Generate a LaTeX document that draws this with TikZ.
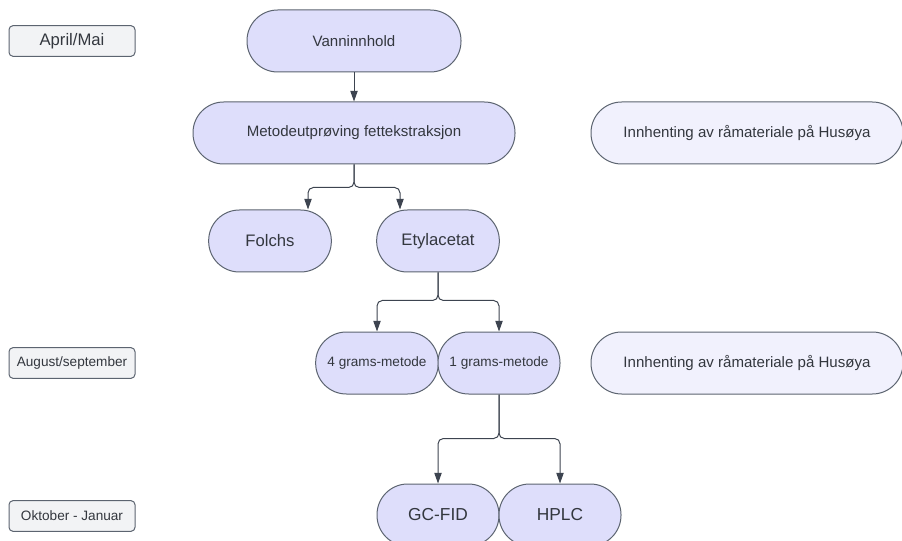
\documentclass[tikz,border=0pt]{standalone}
\usepackage{fontspec}
\setmainfont{Liberation Sans}
\usetikzlibrary{arrows.meta, positioning, calc}
\definecolor{stepfill}{RGB}{222,222,251}
\definecolor{palefill}{RGB}{241,241,253}
\definecolor{periodfill}{RGB}{242,243,245}
\definecolor{edgegray}{RGB}{92,100,112}
\definecolor{linkgray}{RGB}{61,68,80}
\definecolor{textgray}{RGB}{51,55,62}
\tikzset{
    stage/.style={rectangle, rounded corners=23pt, draw=edgegray, fill=stepfill, line width=0.75pt, minimum height=46.5pt, inner sep=0pt, text=textgray, font=\fontsize{11.3}{13}\selectfont},
    bigstage/.style={stage, font=\fontsize{12.5}{14}\selectfont},
    smallstage/.style={stage, font=\fontsize{10.2}{12}\selectfont},
    fetch/.style={stage, fill=palefill, minimum width=234pt},
    period/.style={rectangle, rounded corners=3pt, draw=edgegray, fill=periodfill, line width=0.75pt, minimum width=94.5pt, minimum height=23pt, inner sep=0pt, text=textgray},
    link/.style={-{Triangle[length=8pt, width=5.5pt]}, line width=0.75pt, linkgray, rounded corners=4pt},
}

\begin{document}
\begin{tikzpicture}[x=0.75pt, y=-0.75pt]
    \useasboundingbox (0,0) rectangle (902,541);
    \clip (0,0) rectangle (902,541);
    \node[period, font=\fontsize{12.5}{14}\selectfont] (apr) at (72,41) {April/Mai};
    \node[period, font=\fontsize{10.2}{12}\selectfont] (aug) at (72,363) {August/september};
    \node[period, font=\fontsize{10.2}{12}\selectfont] (okt) at (72,516) {Oktober - Januar};

    \node[stage, minimum width=160.5pt] (vann) at (354,41) {Vanninnhold};
    \node[stage, minimum width=241.5pt] (metode) at (354,133) {Metodeutprøving fettekstraksjon};
    \node[fetch] (hus1) at (747,133) {Innhenting av råmateriale på Husøya};
    \node[bigstage, minimum width=92pt] (folchs) at (270,241) {Folchs};
    \node[bigstage, minimum width=92pt] (etyl) at (438,241) {Etylacetat};
    \node[smallstage, minimum width=92pt] (fire) at (377,363) {4 grams-metode};
    \node[smallstage, minimum width=91.5pt] (en) at (499,363) {1 grams-metode};
    \node[fetch] (hus2) at (747,363) {Innhenting av råmateriale på Husøya};
    \node[stage, minimum width=91.5pt, font=\fontsize{13}{15}\selectfont] (gcfid) at (438,515) {GC-FID};
    \node[stage, minimum width=91.5pt, font=\fontsize{13}{15}\selectfont] (hplc) at (560,515) {HPLC};

    \draw[link] (vann.south) -- (metode.north);
    \draw[link] (metode.south) -- ++(0,23) -| ($(folchs.north)+(38,0)$);
    \draw[link] (metode.south) -- ++(0,23) -| ($(etyl.north)+(-38,0)$);
    \draw[link] (etyl.south) -- ++(0,28) -| (fire.north);
    \draw[link] (etyl.south) -- ++(0,28) -| (en.north);
    \draw[link] (en.south) -- ++(0,44) -| (gcfid.north);
    \draw[link] (en.south) -- ++(0,44) -| (hplc.north);
\end{tikzpicture}
\end{document}
